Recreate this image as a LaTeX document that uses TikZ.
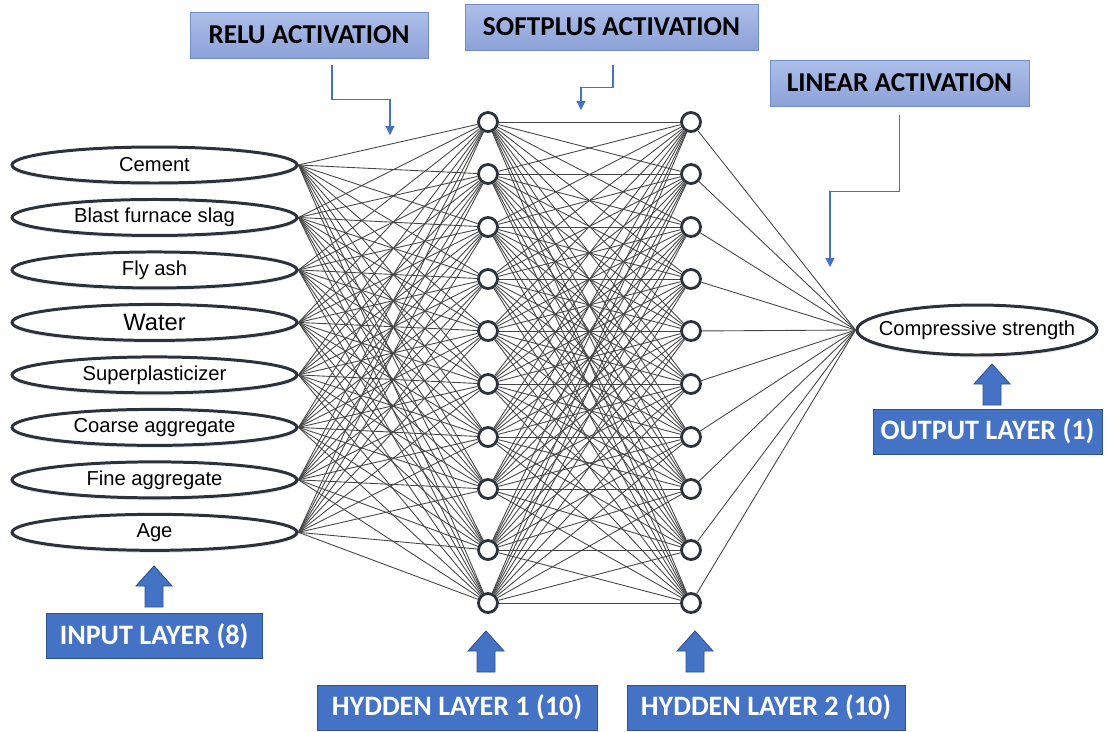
\documentclass[tikz,border=0pt]{standalone}
\usepackage{fontspec}
\setmainfont{Liberation Sans}
\newfontfamily\lblfont{Carlito}
\usetikzlibrary{positioning,shapes.geometric,arrows.meta,shadows}

\definecolor{lyrblue}{HTML}{4472C4}
\definecolor{lyredge}{HTML}{2F528F}
\definecolor{acttop}{HTML}{ADBFE8}
\definecolor{actbot}{HTML}{8CA1D8}
\definecolor{actedge}{HTML}{6F8CCB}
\definecolor{nodeedge}{HTML}{2C323B}
\definecolor{wirecol}{HTML}{454545}

\begin{document}
\begin{tikzpicture} [x=0.02cm, y=-0.02cm,
                    feat/.style={ellipse,draw=nodeedge,line width=1.7pt,fill=white,inner sep=0pt,
                                 minimum width=5.7cm,minimum height=0.72cm,font=\fontsize{11.5}{13}\selectfont,
                                 drop shadow={shadow xshift=0pt,shadow yshift=-1.5pt,opacity=0.15}},
                    neuron/.style={circle,draw=nodeedge,line width=1.6pt,fill=white,inner sep=0pt,minimum size=0.38cm,
                                   drop shadow={shadow xshift=0pt,shadow yshift=-1pt,opacity=0.15}},
                    act/.style={draw=actedge,top color=acttop,bottom color=actbot,minimum height=0.92cm,
                                font=\lblfont\bfseries\fontsize{15.5}{18}\selectfont},
                    lyr/.style={draw=lyredge,fill=lyrblue,text=white,minimum height=0.9cm,
                                font=\lblfont\bfseries\fontsize{16}{19}\selectfont},
                    upblk/.style={draw=lyredge,fill=lyrblue,line width=0.5pt},
                    wire/.style={draw=wirecol,line width=0.5pt},
                    hint/.style={draw=lyrblue,line width=0.6pt,-{Triangle[width=5pt,length=5pt]}}]

\useasboundingbox (0,0) rectangle (1108,731);

% input layer
\node[feat] (cem) at (154.5,165) {Cement};
\node[feat] (slag) [below=0.27cm of cem] {Blast furnace slag};
\node[feat] (ash) [below=0.27cm of slag] {Fly ash};
\node[feat,font=\fontsize{13.5}{15}\selectfont] (water) [below=0.27cm of ash] {Water};
\node[feat] (plast) [below=0.27cm of water] {Superplasticizer};
\node[feat] (coarse) [below=0.27cm of plast] {Coarse aggregate};
\node[feat] (fine) [below=0.27cm of coarse] {Fine aggregate};
\node[feat] (age) [below=0.27cm of fine] {Age};

% hidden layers
\foreach \y [count=\k] in {122,174,227,279,331,384,437,489,550,603} {
  \node[neuron] (h1-\k) at (488,\y) {};
  \node[neuron] (h2-\k) at (691,\y) {};
}

% output layer
\node[feat,minimum width=4.8cm,minimum height=1cm,
      label={[font=\fontsize{11.5}{13}\selectfont]center:Compressive strength}] (cs) at (977,330) {};

% weights
\foreach \i in {cem,slag,ash,water,plast,coarse,fine,age}
  \foreach \j in {1,...,10}
    \draw[wire] (\i.east) -- (h1-\j);
\foreach \i in {1,...,10} {
  \foreach \j in {1,...,10}
    \draw[wire] (h1-\i) -- (h2-\j);
  \draw[wire] (h2-\i) -- (cs.west);
}

% activations
\node[act,minimum width=4.76cm] (relu) at (309,35) {RELU ACTIVATION};
\node[act,minimum width=5.86cm] (soft) at (611.5,27) {SOFTPLUS ACTIVATION};
\node[act,minimum width=5.18cm] (lin) at (899.5,83) {LINEAR ACTIVATION};

\coordinate (reluend) at (390,135);
\coordinate (softend) at (581,110);
\coordinate (linend) at (830,267);
\draw[hint] ([xshift=0.46cm,yshift=-0.14cm]relu.south) -- ++(0,34) -| (reluend);
\draw[hint] ([xshift=0.03cm,yshift=-0.3cm]soft.south) -- ++(0,22) -| (softend);
\draw[hint] ([yshift=-0.18cm]lin.south) -- ++(0,76) -| (linend);

% layer labels
\node[lyr,minimum width=4.32cm] (inlbl) at (154,636) {INPUT LAYER (8)};
\node[lyr,minimum width=5.6cm] (h1lbl) at (457,707.5) {HYDDEN LAYER 1 (10)};
\node[lyr,minimum width=5.56cm] (h2lbl) at (766,707.5) {HYDDEN LAYER 2 (10)};
\node[lyr,minimum width=4.58cm] (outlbl) at (987.5,431.5) {OUTPUT LAYER (1)};

% block arrows (tip points)
\foreach \tx/\ty in {154/566, 486/631, 695/631, 992/364}
  \draw[upblk] (\tx,\ty) -- ++(18,20) -- ++(-9,0) -- ++(0,21) -- ++(-18,0) -- ++(0,-21) -- ++(-9,0) -- cycle;
\end{tikzpicture}
\end{document}
